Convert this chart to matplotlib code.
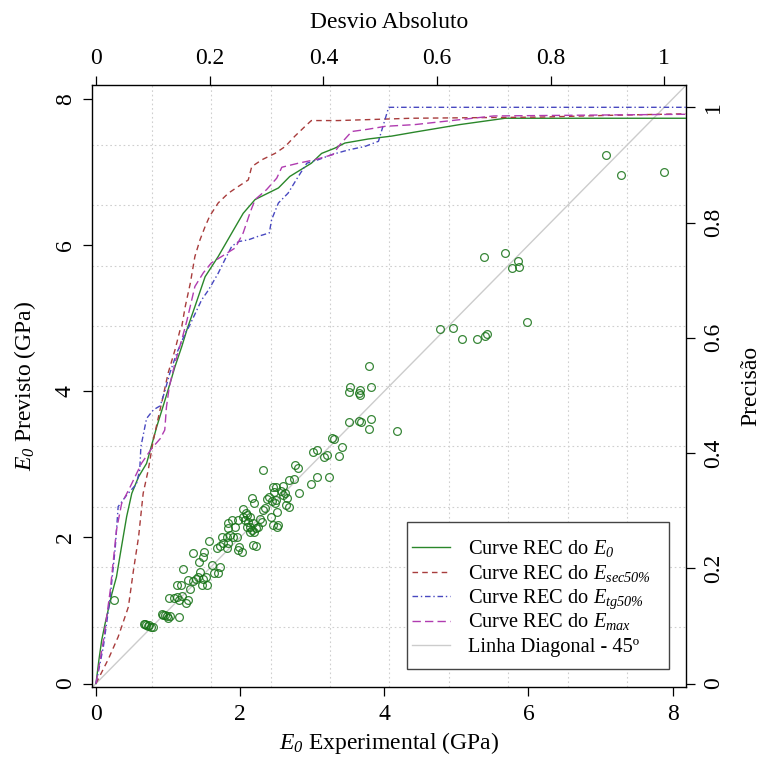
import numpy as np
import matplotlib
matplotlib.use('Agg')
import matplotlib.pyplot as plt
from matplotlib.patches import Rectangle

plt.rcParams['font.family'] = ['Liberation Serif', 'DejaVu Serif']
plt.rcParams['mathtext.fontset'] = 'custom'
# so o E e o indice ficam em modo matematico: tudo em italico, como no R
plt.rcParams['mathtext.rm'] = 'Liberation Serif:italic'
plt.rcParams['mathtext.it'] = 'Liberation Serif:italic'

# E0 experimental x E0 previsto (GPa)
exp_e0 = [0.254, 0.66, 0.68, 0.70, 0.72, 0.74, 0.76, 0.786, 0.91, 0.93, 0.958, 0.99, 1.003, 1.03, 1.156,
          1.017, 1.081, 1.119, 1.156, 1.188, 1.248, 1.281, 1.128, 1.179, 1.304, 1.202, 1.281, 1.341, 1.382,
          1.419, 1.442, 1.488, 1.525, 1.544, 1.47, 1.433, 1.488, 1.498, 1.341, 1.604, 1.64, 1.697, 1.72,
          1.572, 1.673, 1.72, 1.766, 1.743, 1.812, 1.835, 1.812, 1.859, 1.905, 1.835, 1.928, 1.951, 1.975,
          2.021, 1.988, 1.882, 1.835, 1.975, 2.044, 2.035, 2.08, 2.067, 2.113, 2.09, 2.136, 2.159, 2.182,
          2.219, 2.252, 2.275, 2.298, 2.136, 2.09, 2.136, 2.191, 2.182, 2.219, 2.159, 2.191, 2.317, 2.34,
          2.372, 2.4, 2.436, 2.423, 2.451, 2.507, 2.53, 2.507, 2.484, 2.498, 2.47, 2.451, 2.498, 2.562,
          2.599, 2.622, 2.59, 2.655, 2.636, 2.682, 2.682, 2.747, 2.821, 2.761, 2.807, 2.312, 2.978, 3.061,
          3.237, 3.006, 3.061, 3.163, 3.2, 3.269, 3.302, 3.375, 3.417, 3.514, 3.523, 3.509, 3.662, 3.652,
          3.662, 3.815, 3.787, 3.653, 3.671, 3.815, 3.787, 4.171, 4.771, 4.947, 5.081, 5.279, 5.391, 5.428,
          5.973, 5.381, 5.677, 5.848, 5.77, 5.871, 7.069, 7.282, 7.884]
prev_e0 = [1.15, 0.82, 0.81, 0.80, 0.79, 0.80, 0.78, 0.767, 0.95, 0.94, 0.94, 0.93, 0.90, 0.93, 0.91,
           1.164, 1.164, 1.19, 1.14, 1.196, 1.105, 1.15, 1.35, 1.35, 1.292, 1.561, 1.415, 1.40, 1.424,
           1.461, 1.53, 1.424, 1.461, 1.35, 1.35, 1.666, 1.735, 1.803, 1.78, 1.62, 1.516, 1.516, 1.589,
           1.954, 1.849, 1.881, 1.918, 2.009, 1.849, 1.918, 2.009, 2.032, 2.009, 2.123, 2.146, 2.009, 1.826,
           1.803, 1.872, 2.237, 2.2, 2.237, 2.283, 2.383, 2.338, 2.237, 2.214, 2.146, 2.146, 2.1, 2.192,
           2.123, 2.146, 2.246, 2.214, 2.283, 2.306, 2.077, 2.077, 1.895, 1.881, 2.534, 2.475, 2.374, 2.397,
           2.52, 2.548, 2.502, 2.278, 2.173, 2.146, 2.169, 2.351, 2.465, 2.511, 2.626, 2.694, 2.694, 2.639,
           2.703, 2.603, 2.58, 2.534, 2.443, 2.411, 2.785, 2.794, 2.612, 2.991, 2.945, 2.922, 2.725, 2.831,
           2.831, 3.173, 3.196, 3.105, 3.128, 3.356, 3.342, 3.114, 3.242, 3.579, 4.054, 3.986, 4.018, 3.973,
           3.95, 4.054, 4.338, 3.598, 3.584, 3.616, 3.479, 3.456, 4.849, 4.863, 4.713, 4.713, 4.749, 4.781,
           4.94, 5.835, 5.89, 5.785, 5.685, 5.699, 7.233, 6.963, 7.004]

# curvas REC (desvio absoluto x precisao)
rec_e0_desvio = [0, 0.005, 0.010, 0.016, 0.028, 0.036, 0.045, 0.054, 0.063, 0.075, 0.089, 0.098, 0.107,
                 0.118, 0.127, 0.139, 0.151, 0.160, 0.174, 0.192, 0.215, 0.239, 0.259, 0.280, 0.321, 0.341,
                 0.379, 0.397, 0.420, 0.438, 0.479, 0.520, 0.561, 0.64, 0.72, 1.05]
rec_e0_prec = [0, 0.040, 0.075, 0.104, 0.156, 0.185, 0.238, 0.290, 0.330, 0.359, 0.382, 0.414, 0.446,
               0.481, 0.510, 0.550, 0.585, 0.614, 0.654, 0.706, 0.741, 0.782, 0.816, 0.840, 0.860, 0.880,
               0.903, 0.920, 0.929, 0.938, 0.945, 0.950, 0.957, 0.970, 0.981, 0.981]

rec_sec_desvio = [0, 0.022, 0.039, 0.057, 0.066, 0.075, 0.083, 0.092, 0.101, 0.110, 0.118, 0.127, 0.139,
                  0.148, 0.151, 0.157, 0.166, 0.174, 0.183, 0.192, 0.200, 0.215, 0.233, 0.251, 0.268, 0.274,
                  0.292, 0.315, 0.333, 0.350, 0.368, 0.379, 0.426, 0.555, 0.78, 0.90, 1.05]
rec_sec_prec = [0, 0.043, 0.081, 0.133, 0.197, 0.255, 0.330, 0.371, 0.423, 0.463, 0.498, 0.539, 0.579,
                0.614, 0.620, 0.654, 0.695, 0.741, 0.770, 0.793, 0.811, 0.834, 0.851, 0.863, 0.874, 0.897,
                0.909, 0.920, 0.932, 0.950, 0.967, 0.977, 0.977, 0.981, 0.983, 0.986, 0.989]

rec_tg_desvio = [0, 0.013, 0.025, 0.034, 0.039, 0.054, 0.071, 0.077, 0.079, 0.089, 0.101, 0.113, 0.121,
                 0.130, 0.142, 0.157, 0.164, 0.186, 0.198, 0.215, 0.227, 0.239, 0.251, 0.268, 0.285, 0.305,
                 0.309, 0.321, 0.338, 0.356, 0.371, 0.391, 0.415, 0.444, 0.473, 0.497, 0.515, 1.05]
rec_tg_prec = [0, 0.064, 0.150, 0.237, 0.307, 0.327, 0.346, 0.371, 0.411, 0.460, 0.475, 0.482, 0.507,
               0.539, 0.573, 0.608, 0.620, 0.666, 0.683, 0.712, 0.736, 0.759, 0.767, 0.770, 0.776, 0.782,
               0.805, 0.834, 0.851, 0.880, 0.903, 0.909, 0.918, 0.926, 0.932, 0.941, 1.0, 1.0]

rec_max_desvio = [0, 0.013, 0.025, 0.036, 0.045, 0.060, 0.080, 0.098, 0.113, 0.121, 0.124, 0.129, 0.139,
                  0.151, 0.160, 0.174, 0.189, 0.203, 0.221, 0.245, 0.259, 0.271, 0.280, 0.300, 0.318, 0.327,
                  0.356, 0.385, 0.417, 0.429, 0.450, 0.479, 0.509, 0.561, 0.70, 1.05]
rec_max_prec = [0, 0.074, 0.161, 0.266, 0.312, 0.341, 0.382, 0.408, 0.425, 0.440, 0.480, 0.515, 0.556,
                0.597, 0.630, 0.689, 0.713, 0.730, 0.741, 0.756, 0.782, 0.817, 0.840, 0.857, 0.877, 0.896,
                0.903, 0.909, 0.918, 0.935, 0.958, 0.962, 0.967, 0.970, 0.985, 0.988]

legenda = [r'Curve REC do $E_{0}$', r'Curve REC do $E_{sec50\%}$',
           r'Curve REC do $E_{tg50\%}$', r'Curve REC do $E_{max}$',
           'Linha Diagonal - 45º']

# limites estilo R (faixa dos dados + 4%)
escala = max(exp_e0)
faixa = max(exp_e0) - min(exp_e0)
lo, hi = min(exp_e0) - 0.04 * faixa, max(exp_e0) + 0.04 * faixa

W, H = 761, 762
fig = plt.figure(figsize=(W / 100, H / 100), dpi=100)
x0, y0, x1, y1 = 92.3, 85, 686.3, 687.3  # caixa do grafico em pixels
pos = [x0 / W, 1 - y1 / H, (x1 - x0) / W, (y1 - y0) / H]
ax = fig.add_axes(pos)
ax.set_xlim(lo, hi)
ax.set_ylim(lo, hi)

FS = 17

# grade 10x10 pontilhada
for g in np.linspace(lo, hi, 11)[1:-1]:
    ax.axvline(g, color='#cfcfcf', lw=0.8, ls=(0, (1.5, 2.5)), zorder=0)
    ax.axhline(g, color='#cfcfcf', lw=0.8, ls=(0, (1.5, 2.5)), zorder=0)

ax.plot(exp_e0, prev_e0, 'o', ms=5.6, mfc='none', mec='#167216', mew=0.9, alpha=0.85, zorder=3)
ax.axline((0, 0), slope=1, color='#cccccc', lw=1, zorder=2)

ax.set_xticks([0, 2, 4, 6, 8])
ax.set_yticks([0, 2, 4, 6, 8])
ax.tick_params(direction='out', length=6.8, width=0.9, labelsize=FS, pad=5)
ax.tick_params(axis='y', labelrotation=90)
for t in ax.get_yticklabels():
    t.set_va('center')
for s in ax.spines.values():
    s.set_linewidth(1.0)
ax.set_xlabel(r'$E_{0}$ Experimental (GPa)', fontsize=FS, labelpad=4)
ax.set_ylabel(r'$E_{0}$ Previsto (GPa)', fontsize=FS, labelpad=12)

# eixos da curva REC (topo e direita)
ar = fig.add_axes(pos)
ar.patch.set_visible(False)
for s in ar.spines.values():
    s.set_visible(False)
ar.set_xlim(lo / escala, hi / escala)
ar.set_ylim(lo / escala, hi / escala)
ar.xaxis.tick_top()
ar.yaxis.tick_right()
ar.xaxis.set_label_position('top')
ar.yaxis.set_label_position('right')
ticks_rec = [0, 0.2, 0.4, 0.6, 0.8, 1]
ar.set_xticks(ticks_rec)
ar.set_yticks(ticks_rec)
ar.set_xticklabels([f'{t:g}' for t in ticks_rec])
ar.set_yticklabels([f'{t:g}' for t in ticks_rec])
ar.tick_params(direction='out', length=6.8, width=0.9, labelsize=FS, pad=5)
ar.tick_params(axis='y', labelrotation=90)
for t in ar.get_yticklabels():
    t.set_va('center')
ar.set_xlabel('Desvio Absoluto', fontsize=FS, labelpad=14)
ar.set_ylabel('Precisão', fontsize=FS, labelpad=12)

estilos = [dict(color='#2a872a', lw=1.0, ls='-'),
           dict(color='#a83c3c', lw=1.0, ls=(0, (4, 3))),
           dict(color='#4848c0', lw=1.0, ls=(0, (4, 2, 1, 2))),
           dict(color='#b03cb0', lw=1.0, ls=(0, (6, 3))),
           dict(color='#cccccc', lw=1.0, ls='-')]

ar.plot(rec_e0_desvio, rec_e0_prec, **estilos[0])
ar.plot(rec_sec_desvio, rec_sec_prec, **estilos[1])
ar.plot(rec_tg_desvio, rec_tg_prec, **estilos[2])
ar.plot(rec_max_desvio, rec_max_prec, **estilos[3])

# legenda desenhada como no R (caixa, amostras e textos)
def fx(px):
    return (px - x0) / (x1 - x0)

def fy(py):
    return (y1 - py) / (y1 - y0)

caixa = Rectangle((fx(407.3), fy(669)), fx(669.3) - fx(407.3), fy(521.7) - fy(669),
                  transform=ar.transAxes, facecolor='white', edgecolor='#444444', lw=1.0,
                  zorder=5, clip_on=False)
ar.add_patch(caixa)
for i, (rotulo, est) in enumerate(zip(legenda, estilos)):
    ly = 547.3 + i * 24.4
    ar.plot([fx(412), fx(450)], [fy(ly), fy(ly)], transform=ar.transAxes, zorder=6,
            clip_on=False, **est)
    ar.text(fx(467.7), fy(ly + 7), rotulo, transform=ar.transAxes, fontsize=14.7,
            va='baseline', ha='left', zorder=6)

fig.savefig('out.png', dpi=100)
